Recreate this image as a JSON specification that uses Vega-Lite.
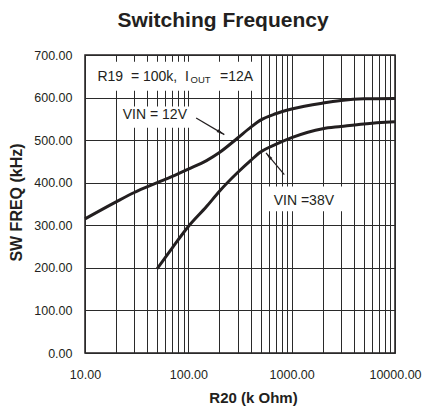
{
  "$schema": "https://vega.github.io/schema/vega-lite/v6.json",
  "width": 310,
  "height": 298,
  "autosize": "none",
  "padding": {"left": 85, "top": 55, "right": 28, "bottom": 53},
  "background": "white",
  "config": {
    "font": "Liberation Sans",
    "view": {"stroke": "#231f20", "strokeWidth": 1.5}
  },
  "title": {
    "text": "Switching Frequency",
    "fontSize": 21,
    "fontWeight": "bold",
    "color": "#231f20",
    "anchor": "middle",
    "dx": -17,
    "baseline": "alphabetic",
    "offset": 1
  },
  "datasets": {
    "curves": [
      {"vin": "12V", "r": 10, "f": 315},
      {"vin": "12V", "r": 20, "f": 355},
      {"vin": "12V", "r": 30, "f": 377},
      {"vin": "12V", "r": 50, "f": 400},
      {"vin": "12V", "r": 70, "f": 415},
      {"vin": "12V", "r": 100, "f": 432},
      {"vin": "12V", "r": 150, "f": 452},
      {"vin": "12V", "r": 200, "f": 471},
      {"vin": "12V", "r": 300, "f": 505},
      {"vin": "12V", "r": 400, "f": 530},
      {"vin": "12V", "r": 500, "f": 547},
      {"vin": "12V", "r": 700, "f": 562},
      {"vin": "12V", "r": 1000, "f": 573},
      {"vin": "12V", "r": 2000, "f": 587},
      {"vin": "12V", "r": 3000, "f": 593},
      {"vin": "12V", "r": 5000, "f": 597},
      {"vin": "12V", "r": 10000, "f": 598},
      {"vin": "38V", "r": 50, "f": 198},
      {"vin": "38V", "r": 70, "f": 247},
      {"vin": "38V", "r": 100, "f": 297},
      {"vin": "38V", "r": 150, "f": 344},
      {"vin": "38V", "r": 200, "f": 380},
      {"vin": "38V", "r": 300, "f": 424},
      {"vin": "38V", "r": 400, "f": 452},
      {"vin": "38V", "r": 500, "f": 472},
      {"vin": "38V", "r": 700, "f": 490},
      {"vin": "38V", "r": 1000, "f": 506},
      {"vin": "38V", "r": 2000, "f": 527},
      {"vin": "38V", "r": 3000, "f": 532},
      {"vin": "38V", "r": 5000, "f": 538},
      {"vin": "38V", "r": 10000, "f": 543}
    ],
    "boxes": [
      {"x1": 10.4, "x2": 480, "y1": 616, "y2": 684},
      {"x1": 21, "x2": 130, "y1": 529, "y2": 579},
      {"x1": 521, "x2": 3460, "y1": 333, "y2": 391}
    ],
    "labels": [
      {"x": 13.2, "y": 649, "text": "R19\u00a0 = 100k,\u00a0 I"},
      {"x": 203, "y": 649, "text": "=12A"},
      {"x": 23.2, "y": 559, "text": "VIN = 12V"},
      {"x": 670, "y": 356, "text": "VIN =38V"}
    ],
    "subs": [
      {"x": 105, "y": 642, "text": "OUT"}
    ],
    "arrows": [
      {"vin": "12V", "x": 119, "y": 552, "x2": 223, "y2": 513},
      {"vin": "38V", "x": 849, "y": 419, "x2": 565, "y2": 470}
    ]
  },
  "layer": [
    {
      "data": {"name": "boxes"},
      "mark": {"type": "rect", "fill": "white", "stroke": null},
      "encoding": {
        "x": {
          "field": "x1",
          "type": "quantitative",
          "scale": {"type": "log", "domain": [10, 10000], "nice": false},
          "axis": {
            "title": "R20 (k Ohm)",
            "values": [10, 20, 30, 40, 50, 60, 70, 80, 90, 100, 200, 300, 400, 500, 600, 700, 800, 900, 1000, 2000, 3000, 4000, 5000, 6000, 7000, 8000, 9000, 10000],
            "labelExpr": "datum.value == 10 || datum.value == 100 || datum.value == 1000 || datum.value == 10000 ? format(datum.value, '.2f') : ''",
            "labelOverlap": false,
            "labelFlush": false,
            "labelBound": false,
            "grid": true,
            "gridColor": "#2a2a2a",
            "gridOpacity": 1,
            "gridWidth": 1,
            "ticks": false,
            "domain": false,
            "labelFontSize": 12.5,
            "labelColor": "#231f20",
            "labelPadding": 15,
            "titleFontSize": 15,
            "titleFontWeight": "bold",
            "titleColor": "#231f20",
            "titleX": 168,
            "titleY": 49,
            "titleBaseline": "alphabetic",
            "titleAlign": "center"
          }
        },
        "x2": {"field": "x2"},
        "y": {
          "field": "y1",
          "type": "quantitative",
          "scale": {"domain": [0, 700], "nice": false, "zero": true},
          "axis": {
            "title": "SW FREQ (kHz)",
            "values": [0, 100, 200, 300, 400, 500, 600, 700],
            "format": ".2f",
            "grid": true,
            "gridColor": "#2a2a2a",
            "gridOpacity": 1,
            "gridWidth": 1,
            "ticks": false,
            "domain": false,
            "labelFontSize": 12.5,
            "labelColor": "#231f20",
            "labelPadding": 13,
            "titleFontSize": 16,
            "titleFontWeight": "bold",
            "titleColor": "#231f20",
            "titleX": -69,
            "titleY": 147,
            "titleAngle": -90,
            "titleAlign": "center",
            "titleBaseline": "middle"
          }
        },
        "y2": {"field": "y2"}
      }
    },
    {
      "data": {"name": "curves"},
      "mark": {"type": "line", "strokeWidth": 3, "color": "#231f20", "interpolate": "monotone"},
      "encoding": {
        "x": {"field": "r", "type": "quantitative"},
        "y": {"field": "f", "type": "quantitative"},
        "detail": {"field": "vin"}
      }
    },
    {
      "data": {"name": "labels"},
      "mark": {"type": "text", "align": "left", "baseline": "middle", "fontSize": 14, "color": "#231f20"},
      "encoding": {
        "x": {"field": "x", "type": "quantitative"},
        "y": {"field": "y", "type": "quantitative"},
        "text": {"field": "text"}
      }
    },
    {
      "data": {"name": "subs"},
      "mark": {"type": "text", "align": "left", "baseline": "middle", "fontSize": 9.5, "color": "#231f20"},
      "encoding": {
        "x": {"field": "x", "type": "quantitative"},
        "y": {"field": "y", "type": "quantitative"},
        "text": {"field": "text"}
      }
    },
    {
      "data": {"name": "arrows"},
      "mark": {"type": "rule", "strokeWidth": 1.2, "color": "#231f20"},
      "encoding": {
        "x": {"field": "x", "type": "quantitative"},
        "y": {"field": "y", "type": "quantitative"},
        "x2": {"field": "x2"},
        "y2": {"field": "y2"}
      }
    },
    {
      "data": {"name": "arrows"},
      "transform": [{"filter": "datum.vin == '12V'"}],
      "mark": {"type": "point", "shape": "M0,0L0.4,2L-0.4,2Z", "size": 64, "filled": true, "opacity": 1, "color": "#231f20", "angle": 120},
      "encoding": {
        "x": {"field": "x2", "type": "quantitative"},
        "y": {"field": "y2", "type": "quantitative"}
      }
    },
    {
      "data": {"name": "arrows"},
      "transform": [{"filter": "datum.vin == '38V'"}],
      "mark": {"type": "point", "shape": "M0,0L0.4,2L-0.4,2Z", "size": 64, "filled": true, "opacity": 1, "color": "#231f20", "angle": 320},
      "encoding": {
        "x": {"field": "x2", "type": "quantitative"},
        "y": {"field": "y2", "type": "quantitative"}
      }
    }
  ]
}
